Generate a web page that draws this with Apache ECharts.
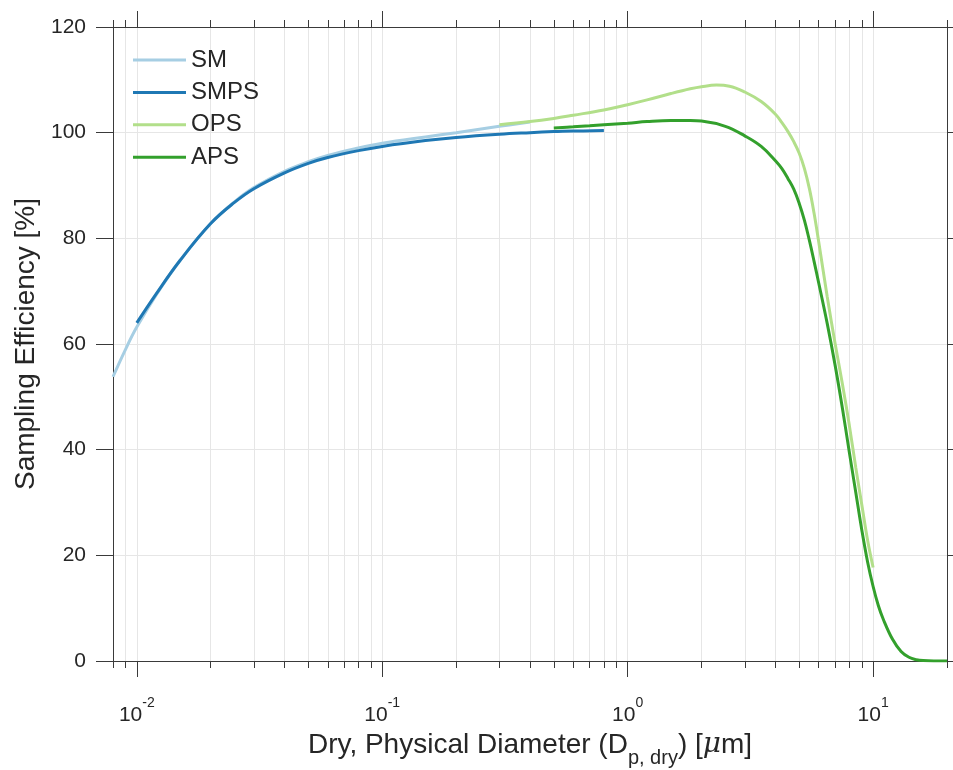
<!DOCTYPE html>
<html>
<head>
<meta charset="utf-8">
<script src="https://cdn.jsdelivr.net/npm/echarts@6/dist/echarts.min.js"></script>
<style>
  html, body { margin: 0; padding: 0; background: #fff; }
  #chart { width: 953px; height: 770px; }
</style>
</head>
<body>
<div id="chart"></div>
<script>
// diameters in um, efficiencies in %
const diamSM = [0.008, 0.009, 0.01, 0.012, 0.015, 0.02, 0.025, 0.03, 0.04, 0.05, 0.06, 0.08, 0.1, 0.15, 0.2, 0.3, 0.4]
const effSM = [53.8, 59.0, 63.2, 69.3, 75.8, 82.8, 86.9, 89.6, 92.7, 94.5, 95.7, 97.1, 98.0, 99.2, 100.0, 101.2, 102.0]

const diamSMPS = [0.01, 0.012, 0.015, 0.02, 0.025, 0.03, 0.04, 0.05, 0.06, 0.08, 0.1, 0.15, 0.2, 0.3, 0.4, 0.5, 0.6, 0.8]
const effSMPS = [64.0, 69.5, 75.8, 82.8, 86.8, 89.4, 92.4, 94.2, 95.3, 96.6, 97.4, 98.5, 99.1, 99.7, 100.0, 100.2, 100.3, 100.4]

const diamOPS = [0.3, 0.4, 0.5, 0.6, 0.8, 1.0, 1.2, 1.5, 1.8, 2.0, 2.3, 2.6, 3.0, 3.5, 4.0, 4.25, 4.5, 4.75, 5.0, 5.25, 5.5, 5.75, 6.0, 6.5, 7.0, 7.5, 8.0, 8.5, 9.0, 9.5, 10]
const effOPS = [101.5, 102.1, 102.7, 103.3, 104.3, 105.3, 106.2, 107.4, 108.3, 108.7, 109.0, 108.8, 107.7, 105.9, 103.5, 101.9, 100.2, 98.3, 96.1, 93.2, 89.4, 84.7, 79.4, 69.0, 60.1, 52.4, 44.6, 36.6, 29.5, 22.8, 17.7]

const diamAPS = [0.5, 0.6, 0.7, 0.8, 1.0, 1.2, 1.5, 1.8, 2.0, 2.5, 3.0, 3.5, 4.0, 4.25, 4.5, 4.75, 5.0, 5.25, 5.5, 5.75, 6.0, 6.5, 7.0, 7.5, 8.0, 8.5, 9.0, 9.5, 10, 10.5, 11, 12, 13, 14, 15, 16, 18, 20]
const effAPS = [100.9, 101.1, 101.3, 101.5, 101.8, 102.1, 102.3, 102.3, 102.2, 101.2, 99.4, 97.4, 94.7, 93.2, 91.3, 89.3, 86.6, 83.4, 79.6, 75.6, 71.6, 63.9, 56.0, 47.8, 39.5, 31.9, 24.7, 18.7, 14.1, 10.5, 7.9, 4.1, 1.8, 0.7, 0.25, 0.08, 0.01, 0]

// axis ticks
const majorTicks = [0.01, 0.1, 1, 10]
const gridTicks = [0.008, 0.009, 0.01,
  0.02, 0.03, 0.04, 0.05, 0.06, 0.07, 0.08, 0.09, 0.1,
  0.2, 0.3, 0.4, 0.5, 0.6, 0.7, 0.8, 0.9, 1,
  2, 3, 4, 5, 6, 7, 8, 9, 10, 20]

const pair = (xs, ys) => xs.map((x, i) => [x, ys[i]])

const font = 'Liberation Sans, Arial, Helvetica, sans-serif'
const textColor = '#262626'
const axisColor = '#3a3a3a'
const gridColor = '#e6e6e6'

const logAxis = (pos, major, withLabel) => ({
  type: 'log',
  logBase: 10,
  min: 0.008,
  max: 20,
  position: pos,
  axisLine: { show: major, onZero: false, lineStyle: { color: axisColor, width: 1 } },
  axisTick: {
    show: true,
    inside: false,
    length: major ? 16 : 7,
    customValues: major ? majorTicks : gridTicks,
    lineStyle: { color: axisColor, width: 1 }
  },
  axisLabel: withLabel ? {
    show: true,
    customValues: majorTicks,
    margin: 35,
    formatter: v => '{b|10}{s|' + Math.round(Math.log10(v)) + '}',
    rich: {
      b: { fontSize: 21, fontFamily: font, color: textColor, lineHeight: 30, verticalAlign: 'bottom' },
      s: { fontSize: 14, fontFamily: font, color: textColor, lineHeight: 12, verticalAlign: 'top' }
    }
  } : { show: false },
  splitLine: { show: !major, lineStyle: { color: gridColor, width: 1 } },
  minorTick: { show: false },
  minorSplitLine: { show: false }
})

const xBottom = logAxis('bottom', true, true)
xBottom.name = '{n|Dry, Physical Diameter (D}{sub|p, dry}{n|) [}{mu|μ}{n|m]}'
xBottom.nameLocation = 'middle'
xBottom.nameGap = 65
xBottom.nameTextStyle = {
  rich: {
    n: { fontSize: 28, fontFamily: font, color: textColor, lineHeight: 28, verticalAlign: 'top' },
    sub: { fontSize: 20, fontFamily: font, color: textColor, lineHeight: 56, verticalAlign: 'middle' },
    mu: { fontSize: 28, fontFamily: 'DejaVu Serif, serif', fontStyle: 'italic', color: textColor, lineHeight: 28, verticalAlign: 'top' }
  }
}

const valAxis = (pos, withLabel) => ({
  type: 'value',
  min: 0,
  max: 120,
  interval: 20,
  position: pos,
  axisLine: { show: true, onZero: false, lineStyle: { color: axisColor, width: 1 } },
  axisTick: { show: true, inside: false, length: 17, lineStyle: { color: axisColor, width: 1 } },
  axisLabel: withLabel ? { show: true, margin: 27, fontSize: 21, fontFamily: font, color: textColor } : { show: false },
  splitLine: { show: withLabel, lineStyle: { color: gridColor, width: 1 } }
})

const yLeft = valAxis('left', true)
yLeft.name = 'Sampling Efficiency [%]'
yLeft.nameLocation = 'middle'
yLeft.nameGap = 72
yLeft.nameTextStyle = { fontSize: 28, fontFamily: font, color: textColor }

const lineSeries = (name, data, color) => ({
  name: name,
  type: 'line',
  data: data,
  showSymbol: false,
  smooth: 0.4,
  lineStyle: { color: color, width: 3 },
  itemStyle: { color: color }
})

const chart = echarts.init(document.getElementById('chart'), null, { renderer: 'canvas' })
chart.setOption({
  animation: false,
  backgroundColor: '#fff',
  grid: { left: 113, top: 27, right: 6, bottom: 109, containLabel: false, outerBoundsMode: 'none' },
  legend: {
    orient: 'vertical',
    left: 133,
    top: 48,
    padding: 0,
    icon: 'rect',
    itemWidth: 53,
    itemHeight: 3,
    itemGap: 8.4,
    textStyle: { fontSize: 24, fontFamily: font, color: textColor, lineHeight: 24 },
    data: ['SM', 'SMPS', 'OPS', 'APS']
  },
  xAxis: [xBottom, logAxis('bottom', false, false), logAxis('top', true, false), logAxis('top', false, false)],
  yAxis: [yLeft, valAxis('right', false)],
  series: [
    lineSeries('SM', pair(diamSM, effSM), '#a6cee3'),
    lineSeries('SMPS', pair(diamSMPS, effSMPS), '#1f78b4'),
    lineSeries('OPS', pair(diamOPS, effOPS), '#b2df8a'),
    lineSeries('APS', pair(diamAPS, effAPS), '#33a02c')
  ]
})
</script>
</body>
</html>
